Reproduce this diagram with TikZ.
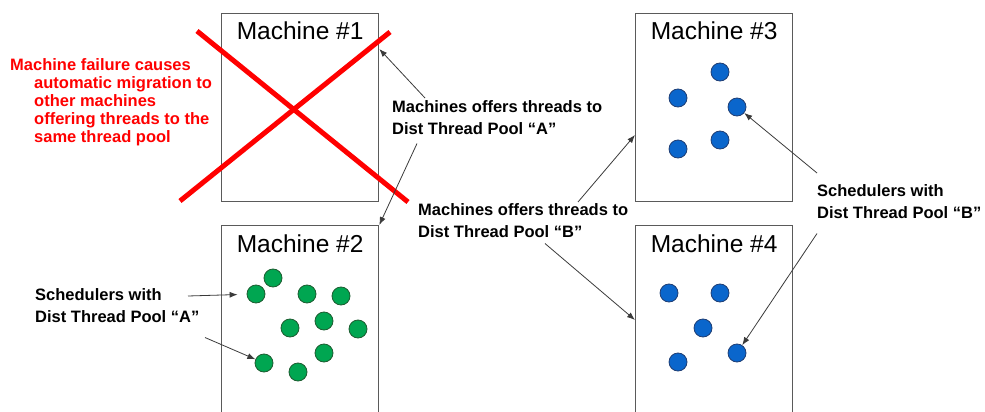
\documentclass[tikz,border=0pt]{standalone}
\usepackage{fontspec}
\setmainfont{Liberation Sans}
\usepackage{xcolor}
\usetikzlibrary{arrows.meta,positioning,calc}
\definecolor{rojo}{HTML}{FF0000}
\definecolor{verde}{HTML}{00A651}
\definecolor{verdeosc}{HTML}{1D5C30}
\definecolor{azul}{HTML}{0A66CC}
\definecolor{azulosc}{HTML}{1F3D73}
\definecolor{marco}{HTML}{5A5A5A}
\definecolor{tinta}{HTML}{3A3A3A}

\begin{document}
\begin{tikzpicture}[x=1pt,y=-1pt,
  mach/.style={draw=marco,line width=1.3pt,rectangle,inner sep=0pt,anchor=north west,minimum width=157pt},
  ttl/.style={font=\fontsize{24.5}{26}\selectfont,inner sep=0pt,anchor=base},
  gdot/.style={circle,fill=verde,draw=verdeosc,line width=0.8pt,minimum size=18pt,inner sep=0pt},
  bdot/.style={circle,fill=azul,draw=azulosc,line width=0.8pt,minimum size=18pt,inner sep=0pt},
  lab/.style={font=\fontsize{16.5}{22}\selectfont\bfseries,align=left,inner sep=0pt,anchor=north west},
  arr/.style={-{Latex[length=8pt,width=6pt]},line width=0.8pt,tinta}]
  \clip (0,0) rectangle (985,412);
  % machines
  \node[mach,minimum height=188pt] (m1) at (221,13) {};
  \node[mach,minimum height=200pt] (m2) at (221,225) {};
  \node[mach,minimum height=188pt] (m3) at (635,13) {};
  \node[mach,minimum height=200pt] (m4) at (635,225) {};
  \node[ttl] (t1) at ($(m1.north)+(0,27)$) {Machine \#1};
  \node[ttl] (t2) at ($(m2.north)+(0,27)$) {Machine \#2};
  \node[ttl] (t3) at ($(m3.north)+(0,27)$) {Machine \#3};
  \node[ttl] (t4) at ($(m4.north)+(0,27)$) {Machine \#4};
  % schedulers
  \foreach \n/\x/\y in {g1/273/278,g2/256/294,g3/307/294,g4/341/296,g5/290/328,
      g6/324/321,g7/358/329,g8/264/363,g9/324/353,g10/298/372}
    \node[gdot] (\n) at (\x,\y) {};
  \foreach \n/\x/\y in {b1/720/72,b2/678/98,b3/737/107,b4/720/140,b5/678/149,
      b6/669/293,b7/720/293,b8/703/328,b9/737/353,b10/678/362}
    \node[bdot] (\n) at (\x,\y) {};
  % failed machine
  \draw[rojo,line width=5pt] (197,31) -- (408,202);
  \draw[rojo,line width=5pt] (390,32) -- (180,201);
  \node[lab,rojo,font=\fontsize{16.5}{18.2}\selectfont\bfseries] (fail) at (10,58)
    {Machine failure causes\\\hspace*{24pt}automatic migration to\\\hspace*{24pt}other machines\\
     \hspace*{24pt}offering threads to the\\\hspace*{24pt}same thread pool};
  % labels
  \node[lab] (labA) at (392,100) {Machines offers threads to\\Dist Thread Pool “A”};
  \node[lab] (labB) at (418,203) {Machines offers threads to\\Dist Thread Pool “B”};
  \node[lab] (labSA) at (35,288) {Schedulers with\\Dist Thread Pool “A”};
  \node[lab] (labSB) at (817,184) {Schedulers with\\Dist Thread Pool “B”};
  % arrows
  \draw[arr] ($(labA.north west)+(33,-2)$) -- ($(m1.north east)+(0,36)$);
  \draw[arr] ($(labA.south west)+(25,9)$) -- (m2.north east);
  \draw[arr] ($(labB.north west)+(160,-1)$) -- ($(m3.north west)+(0,122)$);
  \draw[arr] ($(labB.south west)+(127,6)$) -- ($(m4.north west)+(0,95)$);
  \draw[arr] ($(labSB.north west)+(0,-11)$) -- (b3);
  \draw[arr] ($(labSB.south west)+(0,15)$) -- (b9);
  \draw[arr,shorten >=9pt] ($(labSA.north west)+(153,8)$) -- (g2);
  \draw[arr] ($(labSA.south west)+(170,15)$) -- (g8);
\end{tikzpicture}
\end{document}
